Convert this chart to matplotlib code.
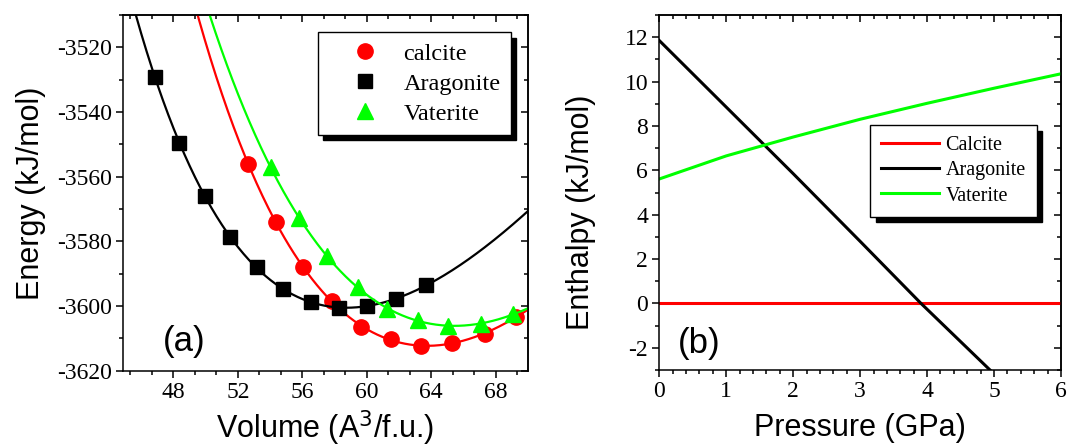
import matplotlib.pyplot as plt
import numpy as np
from matplotlib.ticker import MultipleLocator

plt.rcParams['axes.unicode_minus'] = False

# (a) energy vs volume
calcite_v = [52.64, 54.35, 56.07, 57.82, 59.64, 61.52, 63.40, 65.29, 67.32, 69.29]
calcite_e = [-3556.1, -3573.9, -3588.0, -3598.5, -3606.4, -3610.3, -3612.4, -3611.3, -3608.5, -3603.4]

arag_v = [46.85, 48.36, 49.95, 51.51, 53.18, 54.83, 56.56, 58.25, 60.00, 61.84, 63.68]
arag_e = [-3529.1, -3549.5, -3566.0, -3578.6, -3588.0, -3594.8, -3598.8, -3600.6, -3600.0, -3597.7, -3593.6]

vat_v = [54.03, 55.79, 57.52, 59.45, 61.27, 63.17, 65.05, 67.08, 69.07]
vat_e = [-3557.0, -3572.7, -3584.5, -3594.0, -3601.0, -3604.3, -3606.2, -3605.4, -3602.6]

# (b) enthalpy vs pressure
p_calcite = [0, 6]
h_calcite = [0, 0]
p_arag = [0, 1, 2, 3, 3.91, 4.94]
h_arag = [11.85, 8.85, 5.85, 2.8, 0, -3]
p_vat = [0, 1, 2, 3, 4, 5, 6]
h_vat = [5.61, 6.65, 7.5, 8.3, 9.02, 9.7, 10.35]

SERIF = 'Liberation Serif'
SANS = 'Liberation Sans'
RED = '#ff0000'
GREEN = '#00ff00'


def bm_fit(v, e, vmin, vmax):
    # 3rd order Birch-Murnaghan form: E is a cubic in V^(-2/3)
    x = np.asarray(v) ** (-2.0 / 3.0)
    coef = np.polyfit(x, e, 3)
    vv = np.linspace(vmin, vmax, 300)
    return vv, np.polyval(coef, vv ** (-2.0 / 3.0))


def style_axes(ax, xmaj, xmin, ymaj, ymin):
    ax.xaxis.set_major_locator(MultipleLocator(xmaj))
    ax.xaxis.set_minor_locator(MultipleLocator(xmin))
    ax.yaxis.set_major_locator(MultipleLocator(ymaj))
    ax.yaxis.set_minor_locator(MultipleLocator(ymin))
    ax.tick_params(which='both', direction='out', width=1.1, top=False, right=False,
                   labelsize=17, labelfontfamily=SERIF)
    ax.tick_params(which='major', length=5, pad=3)
    ax.tick_params(which='minor', length=3)
    for s in ax.spines.values():
        s.set_linewidth(1.1)
    # mirrored ticks on top and right pointing into the plot
    top = ax.secondary_xaxis('top')
    top.xaxis.set_major_locator(MultipleLocator(xmaj))
    top.xaxis.set_minor_locator(MultipleLocator(xmin))
    top.tick_params(which='both', direction='in', width=1.1, labeltop=False)
    top.tick_params(which='major', length=5)
    top.tick_params(which='minor', length=3)
    right = ax.secondary_yaxis('right')
    right.yaxis.set_major_locator(MultipleLocator(ymaj))
    right.yaxis.set_minor_locator(MultipleLocator(ymin))
    right.tick_params(which='both', direction='in', width=1.1, labelright=False)
    right.tick_params(which='major', length=5)
    right.tick_params(which='minor', length=3)
    for sec in (top, right):
        for s in sec.spines.values():
            s.set_linewidth(1.1)


fig = plt.figure(figsize=(10.72, 4.48), dpi=100)
ax1 = fig.add_axes([0.1152, 0.1725, 0.3771, 0.794])
ax2 = fig.add_axes([0.615, 0.1741, 0.3747, 0.7924])

# ---- panel (a)
x_lo, x_hi = 44.9, 70
for v, e, col, mk, ms, lab, vstart in [
        (calcite_v, calcite_e, RED, 'o', 11, 'calcite', 48.5),
        (arag_v, arag_e, 'black', 's', 9.5, 'Aragonite', 45.0),
        (vat_v, vat_e, GREEN, '^', 11.5, 'Vaterite', 49.0)]:
    vv, ee = bm_fit(v, e, vstart, x_hi)
    ax1.plot(vv, ee, color=col, lw=1.6)
    ax1.plot(v, e, ls='none', marker=mk, ms=ms, color=col, label=lab)

ax1.set_xlim(x_lo, x_hi)
ax1.set_ylim(-3620, -3510)
style_axes(ax1, 4, 4 / 3, 20, 10)
ax1.set_xlabel('Volume (A$^3$/f.u.)', family=SANS, fontsize=22)
ax1.set_ylabel('Energy (kJ/mol)', family=SANS, fontsize=22)
ax1.xaxis.set_label_coords(0.5, -0.163)
ax1.xaxis.label.set_va('center')
ax1.yaxis.set_label_coords(-0.228, 0.5)
ax1.yaxis.label.set_va('center')
ax1.text(0.149, 0.0815, '(a)', transform=ax1.transAxes, family=SANS, fontsize=25,
         ha='center', va='center')
ax1.legend(loc='upper left', bbox_to_anchor=(0.481, 0.951), borderaxespad=0,
           prop={'family': SERIF, 'size': 17.5}, fancybox=False, edgecolor='black',
           framealpha=1, handlelength=3.0, handletextpad=0.1, labelspacing=0.33,
           borderpad=0.42,
           shadow={'ox': 4, 'oy': -4, 'color': 'black', 'alpha': 1})

# ---- panel (b)
ax2.plot(p_calcite, h_calcite, color=RED, lw=2.2, label='Calcite')
ax2.plot(p_arag, h_arag, color='black', lw=2.2, label='Aragonite')
ax2.plot(p_vat, h_vat, color=GREEN, lw=2.2, label='Vaterite')
ax2.set_xlim(0, 6)
ax2.set_ylim(-3, 13)
style_axes(ax2, 1, 0.2, 2, 1)
ax2.set_xlabel('Pressure (GPa)', family=SANS, fontsize=22)
ax2.set_ylabel('Enthalpy (kJ/mol)', family=SANS, fontsize=22)
ax2.xaxis.set_label_coords(0.5, -0.163)
ax2.xaxis.label.set_va('center')
ax2.yaxis.set_label_coords(-0.194, 0.4437)
ax2.yaxis.label.set_va('center')
ax2.text(0.1, 0.076, '(b)', transform=ax2.transAxes, family=SANS, fontsize=25,
         ha='center', va='center')
ax2.legend(loc='upper left', bbox_to_anchor=(0.5245, 0.690), borderaxespad=0,
           prop={'family': SERIF, 'size': 14.5}, fancybox=False, edgecolor='black',
           framealpha=1, handlelength=2.9, handletextpad=0.3, labelspacing=0.3,
           borderpad=0.55,
           shadow={'ox': 4, 'oy': -4, 'color': 'black', 'alpha': 1})

fig.savefig('out.png', dpi=100)
